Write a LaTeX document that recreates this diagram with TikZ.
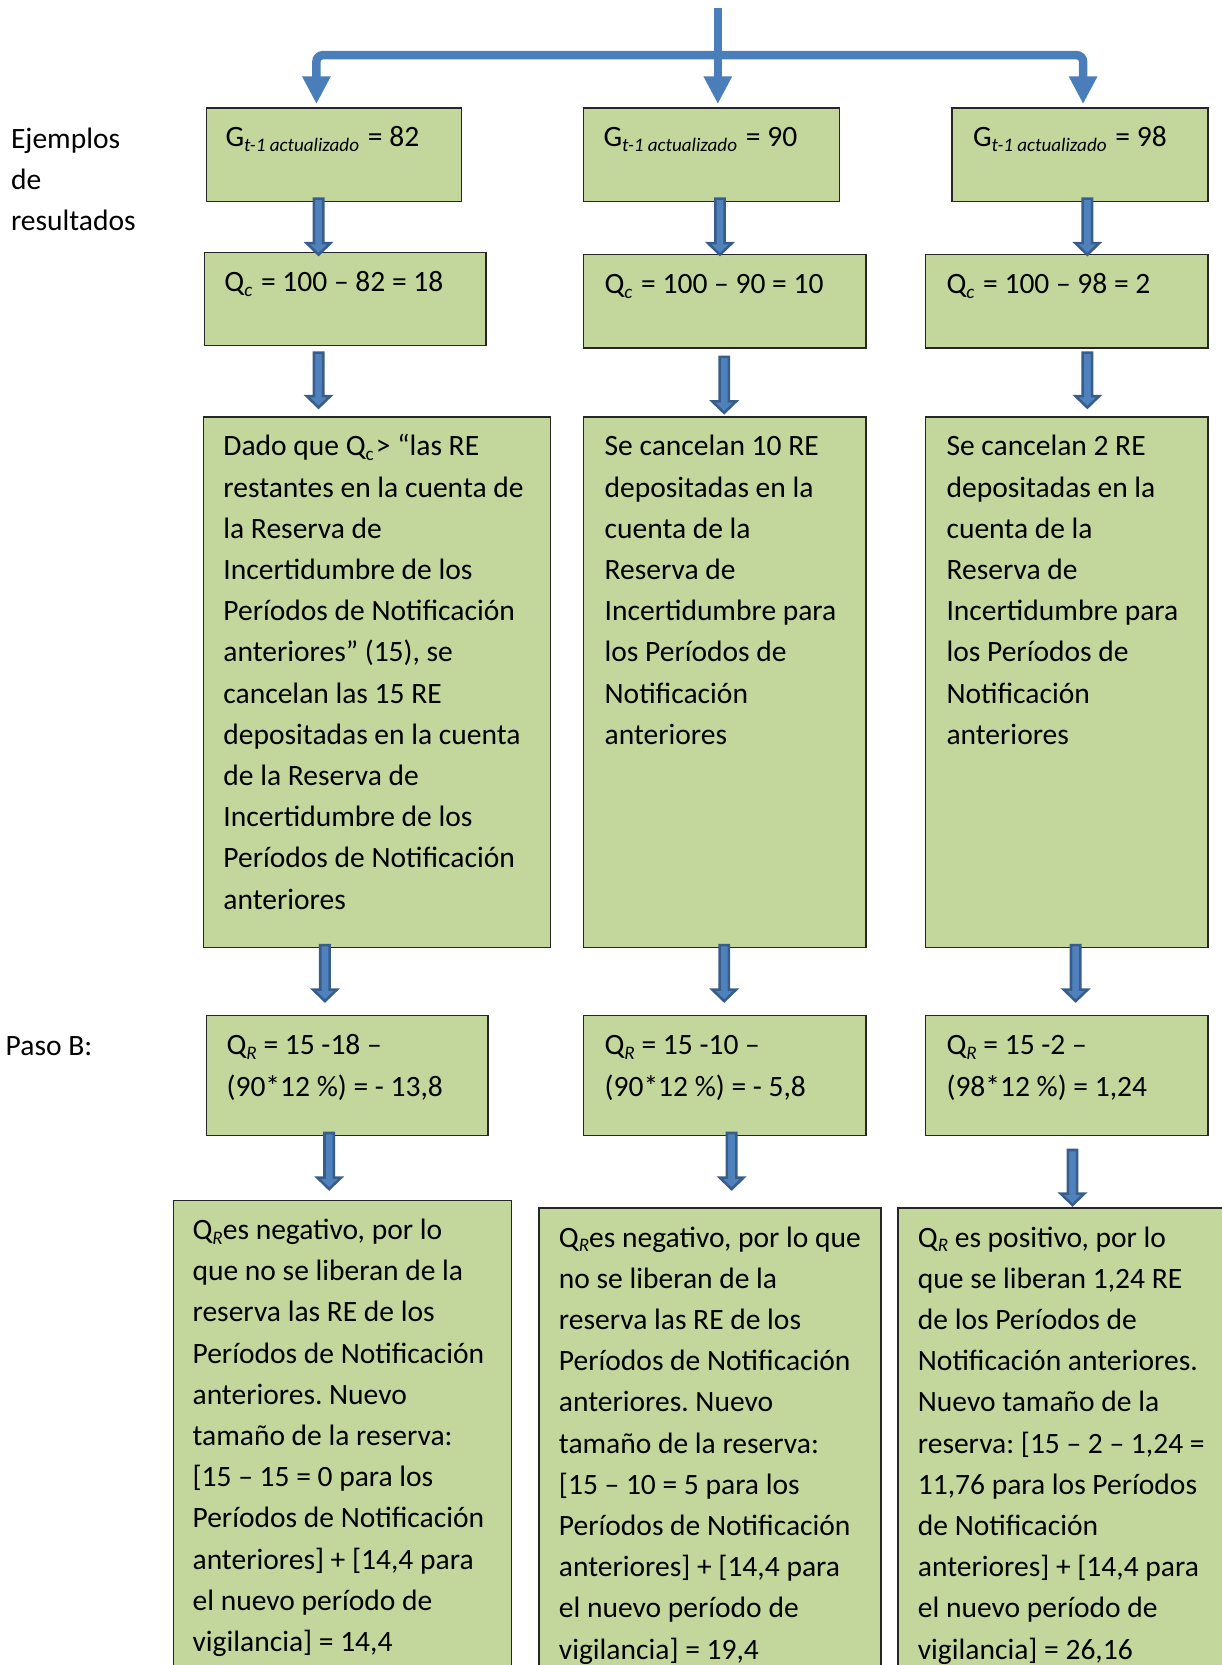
\documentclass[tikz,border=0pt]{standalone}
\usepackage{fontspec}
\setmainfont{Carlito}
\usetikzlibrary{arrows.meta,calc}
\definecolor{boxgreen}{HTML}{C3D69B}
\definecolor{connblue}{HTML}{4A7EBB}
\definecolor{arrdark}{HTML}{385D8A}
\definecolor{arrfill}{HTML}{4F81BD}
\newcommand\mysub[1]{\raisebox{-2.3pt}{\fontsize{9}{10}\selectfont\itshape #1}}
\newcommand\mysubup[1]{\raisebox{-2.3pt}{\fontsize{9}{10}\selectfont #1}}
\newcommand\blockarrow[2]{\draw[barrow] let \p1=(#1), \p2=(#2) in
  (\x1-2.2pt,\y1) -- (\x1+2.2pt,\y1) -- (\x1+2.2pt,\y2+6pt) -- (\x1+5.6pt,\y2+6pt)
  -- (\x1,\y2+0.6pt) -- (\x1-5.6pt,\y2+6pt) -- (\x1-2.2pt,\y2+6pt) -- cycle;}
\begin{document}
\begin{tikzpicture}[x=0.5pt,y=-0.5pt,
  box/.style={draw=black!85, line width=0.6pt, fill=boxgreen, anchor=north west, inner sep=0pt},
  txt/.style={anchor=north west, inner sep=0pt, align=left, font=\fontsize{13.9}{19.4}\selectfont\frenchspacing, yshift=-1pt},
  barrow/.style={draw=arrdark, fill=arrfill, line width=1.2pt, line join=miter},
  conn/.style={draw=connblue, line width=4pt, -{Triangle[width=12.5pt,length=13pt]}}]
\useasboundingbox (0,0) rectangle (1150,1568);

% side labels
\node[txt] (lab1) at (10,110) {\strut Ejemplos\\de\\resultados};
\node[txt] (lab2) at (5,964) {\strut Paso B:};

% row 1
\node[box, minimum width=120pt, minimum height=44pt] (b11) at (194,101) {};
\node[box, minimum width=120.5pt, minimum height=44pt] (b12) at (549,101) {};
\node[box, minimum width=120.5pt, minimum height=44pt] (b13) at (896,101) {};
\node[txt] (t11) at (212,108.8) {\strut G\mysub{t-1 actualizado}\ \kern1pt= 82};
\node[txt] (t12) at (568,108.8) {\strut G\mysub{t-1 actualizado}\ \kern1pt= 90};
\node[txt] (t13) at (916,108.8) {\strut G\mysub{t-1 actualizado}\ \kern1pt= 98};

% row 2
\node[box, minimum width=132.5pt, minimum height=44pt] (b21) at (192,237) {};
\node[box, minimum width=133pt, minimum height=44pt] (b22) at (549,239) {};
\node[box, minimum width=133pt, minimum height=44pt] (b23) at (871,239) {};
\node[txt] (t21) at (211,244.8) {\strut Q\mysub{c}\ \kern1pt= 100 – 82 = 18};
\node[txt] (t22) at (569,246.8) {\strut Q\mysub{c}\ \kern1pt= 100 – 90 = 10};
\node[txt] (t23) at (891,246.8) {\strut Q\mysub{c}\ \kern1pt= 100 – 98 = 2};

% row 3
\node[box, minimum width=163.5pt, minimum height=250pt] (b31) at (191,392) {};
\node[box, minimum width=133pt, minimum height=250pt] (b32) at (549,392) {};
\node[box, minimum width=133pt, minimum height=250pt] (b33) at (871,392) {};
\node[txt] (t31) at (210,399.8) {\strut Dado que Q\mysubup{c}\kern1pt> “las RE\\
restantes en la cuenta de\\
la Reserva de\\
Incertidumbre de los\\
Períodos de Notificación\\
anteriores” (15), se\\
cancelan las 15 RE\\
depositadas en la cuenta\\
de la Reserva de\\
Incertidumbre de los\\
Períodos de Notificación\\
anteriores};
\node[txt] (t32) at (569,399.8) {\strut Se cancelan 10 RE\\
depositadas en la\\
cuenta de la\\
Reserva de\\
Incertidumbre para\\
los Períodos de\\
Notificación\\
anteriores};
\node[txt] (t33) at (891,399.8) {\strut Se cancelan 2 RE\\
depositadas en la\\
cuenta de la\\
Reserva de\\
Incertidumbre para\\
los Períodos de\\
Notificación\\
anteriores};

% row 4
\node[box, minimum width=132.5pt, minimum height=56.5pt] (b41) at (194,956) {};
\node[box, minimum width=133pt, minimum height=56.5pt] (b42) at (549,956) {};
\node[box, minimum width=133pt, minimum height=56.5pt] (b43) at (871,956) {};
\node[txt] (t41) at (213,963.8) {\strut Q\mysub{R} = 15 -18 –\\(90*12 \%) = - 13,8};
\node[txt] (t42) at (569,963.8) {\strut Q\mysub{R} = 15 -10 –\\(90*12 \%) = - 5,8};
\node[txt] (t43) at (891,963.8) {\strut Q\mysub{R} = 15 -2 –\\(98*12 \%) = 1,24};

% row 5
\node[box, minimum width=159pt, minimum height=245pt] (b51) at (163,1130) {};
\node[box, minimum width=161pt, minimum height=241.5pt] (b52) at (507,1137) {};
\node[box, minimum width=177.5pt, minimum height=241.5pt] (b53) at (845,1137) {};
\node[txt] (t51) at (181,1137.8) {\strut Q\mysub{R}es negativo, por lo\\
que no se liberan de la\\
reserva las RE de los\\
Períodos de Notificación\\
anteriores. Nuevo\\
tamaño de la reserva:\\
{[}15 – 15 = 0 para los\\
Períodos de Notificación\\
anteriores] + [14,4 para\\
el nuevo período de\\
vigilancia] = 14,4};
\node[txt] (t52) at (526,1144.8) {\strut Q\mysub{R}es negativo, por lo que\\
no se liberan de la\\
reserva las RE de los\\
Períodos de Notificación\\
anteriores. Nuevo\\
tamaño de la reserva:\\
{[}15 – 10 = 5 para los\\
Períodos de Notificación\\
anteriores] + [14,4 para\\
el nuevo período de\\
vigilancia] = 19,4};
\node[txt] (t53) at (864,1144.8) {\strut Q\mysub{R} es positivo, por lo\\
que se liberan 1,24 RE\\
de los Períodos de\\
Notificación anteriores.\\
Nuevo tamaño de la\\
reserva: [15 – 2 – 1,24 =\\
11,76 para los Períodos\\
de Notificación\\
anteriores] + [14,4 para\\
el nuevo período de\\
vigilancia] = 26,16};

% top connector
\coordinate (top) at (676,8);
\coordinate (j) at (676,52);
\coordinate (e1) at (298,98);
\coordinate (e2) at (676,98);
\coordinate (e3) at (1020,98);
\draw[conn] (top) -- (e2);
\draw[conn, rounded corners=3pt] (j) -| (e1);
\draw[conn, rounded corners=3pt] (j) -| (e3);

% block arrows
\coordinate (a11) at (300,187); \coordinate (a12) at (300,241);
\coordinate (a21) at (678,187); \coordinate (a22) at (678,241);
\coordinate (a31) at (1024,187); \coordinate (a32) at (1024,241);
\coordinate (c11) at (300,332); \coordinate (c12) at (300,385);
\coordinate (c21) at (682,336); \coordinate (c22) at (682,390);
\coordinate (c31) at (1024,332); \coordinate (c32) at (1024,385);
\coordinate (d11) at (306,890); \coordinate (d12) at (306,944);
\coordinate (d21) at (682,890); \coordinate (d22) at (682,944);
\coordinate (d31) at (1013,890); \coordinate (d32) at (1013,944);
\coordinate (f11) at (310,1067); \coordinate (f12) at (310,1121);
\coordinate (f21) at (689,1067); \coordinate (f22) at (689,1121);
\coordinate (f31) at (1010,1083); \coordinate (f32) at (1010,1136);
\blockarrow{a11}{a12}\blockarrow{a21}{a22}\blockarrow{a31}{a32}
\blockarrow{c11}{c12}\blockarrow{c21}{c22}\blockarrow{c31}{c32}
\blockarrow{d11}{d12}\blockarrow{d21}{d22}\blockarrow{d31}{d32}
\blockarrow{f11}{f12}\blockarrow{f21}{f22}\blockarrow{f31}{f32}
\end{tikzpicture}
\end{document}
